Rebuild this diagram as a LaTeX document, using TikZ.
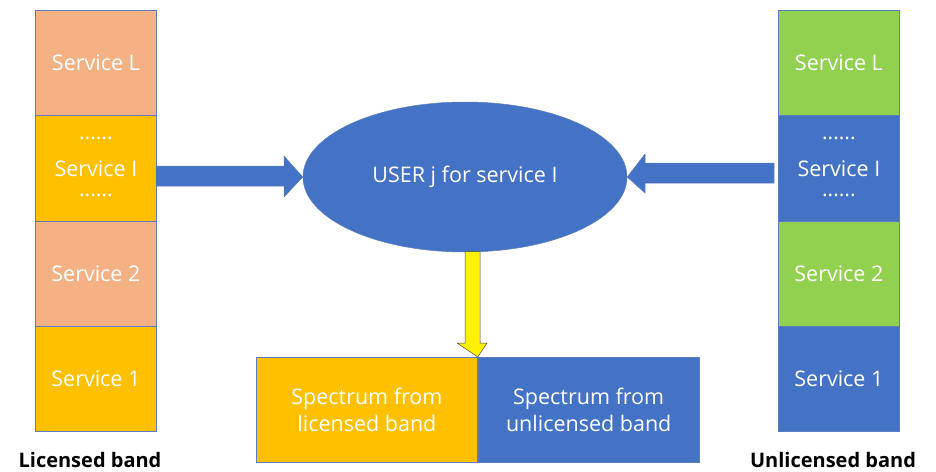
\documentclass[tikz,border=0pt]{standalone}
\usepackage{fontspec}
\setmainfont{Open Sans}
\usetikzlibrary{shapes.geometric}
\definecolor{peach}{HTML}{F4B183}
\definecolor{gold}{HTML}{FFC000}
\definecolor{mblue}{HTML}{4472C4}
\definecolor{mgreen}{HTML}{92D050}
\definecolor{edge}{HTML}{5B7DBF}
\tikzset{
  cell/.style={draw=edge, line width=0.8pt, minimum width=121pt, minimum height=105.3pt,
    inner sep=0pt, text=white, font=\fontsize{21.5}{24}\selectfont, align=center, anchor=north west},
  dots/.style={text=white, font=\fontsize{21}{22}\selectfont, inner sep=0pt, anchor=base},
  spec/.style={draw=edge, line width=0.8pt, minimum width=221pt, minimum height=105pt,
    inner sep=0pt, text=white, font=\fontsize{21.5}{27}\selectfont, align=center, anchor=north west},
  bandlabel/.style={font=\bfseries\fontsize{20}{22}\selectfont, text=black, inner sep=0pt, anchor=base},
  fatarrow/.style={fill=mblue, draw=edge, line width=0.5pt},
}
\begin{document}
\begin{tikzpicture}[x=1pt,y=-1pt]
\useasboundingbox (0,0) rectangle (936,471);
% left column
\node[cell, fill=peach] (lL) at (35,10) {Service L};
\node[cell, fill=gold] (lI) at (35,115.3) {Service I};
\node[cell, fill=peach] (l2) at (35,220.6) {Service 2};
\node[cell, fill=gold] (l1) at (35,325.9) {Service 1};
\node[dots] (lId1) at ([yshift=-28pt]lI.center) {......};
\node[dots] (lId2) at ([yshift=29pt]lI.center) {......};
% right column
\node[cell, fill=mgreen] (rL) at (778,10) {Service L};
\node[cell, fill=mblue] (rI) at (778,115.3) {Service I};
\node[cell, fill=mgreen] (r2) at (778,220.6) {Service 2};
\node[cell, fill=mblue] (r1) at (778,325.9) {Service 1};
\node[dots] (rId1) at ([yshift=-28pt]rI.center) {......};
\node[dots] (rId2) at ([yshift=29pt]rI.center) {......};
% ellipse
\node[ellipse, fill=mblue, draw=edge, line width=0.5pt, minimum width=324pt, minimum height=150pt,
  inner sep=0pt, text=white, font=\fontsize{21.5}{24}\selectfont] (user) at (465,177) {USER j for service I};
% bottom boxes
\node[spec, fill=gold] (sl) at (256,357) {Spectrum from\\licensed band};
\node[spec, fill=mblue] (su) at (sl.north east) {Spectrum from\\unlicensed band};
% labels
\node[bandlabel] (lb) at (90,467) {Licensed band};
\node[bandlabel] (ub) at (833,467) {Unlicensed band};
% left fat arrow
\draw[fatarrow] (156,166) -- (284,166) -- (284,156) -- (user.west) -- (284,197) -- (284,186) -- (156,186) -- cycle;
% right fat arrow
\draw[fatarrow] (774,163) -- (645,163) -- (645,154) -- (user.east) -- (645,193) -- (645,183) -- (774,183) -- cycle;
% yellow arrow
\draw[fill=yellow, draw=black!70, line width=0.5pt] (465,251.5) -- (480,251.5) -- (480,343) -- (487,343) -- (sl.north east) -- (457,343) -- (465,343) -- cycle;
\end{tikzpicture}
\end{document}
